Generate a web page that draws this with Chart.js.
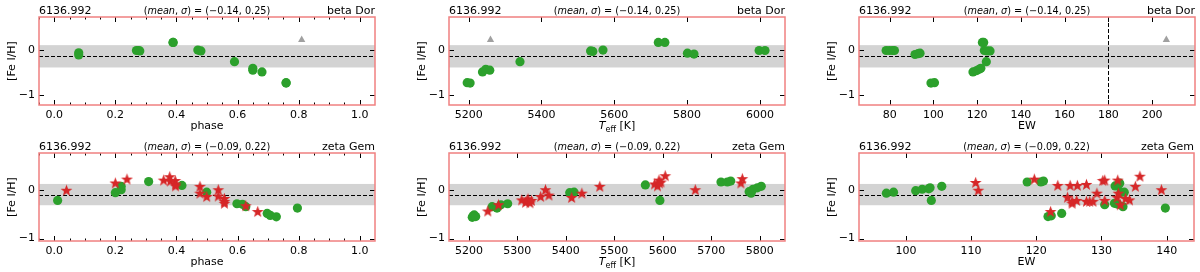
<!DOCTYPE html>
<html>
<head>
<meta charset="utf-8">
<script src="https://cdn.jsdelivr.net/npm/chart.js@4.4.0/dist/chart.umd.min.js"></script>
<style>
  html, body { margin: 0; padding: 0; background: #fff; overflow: hidden; }
  #wrap { position: relative; width: 1200px; height: 272px; }
  canvas { position: absolute; }
</style>
</head>
<body>
<div id="wrap"></div>
<script>
// ---- data ----
const lineLabel = '6136.992';
const starNames = ['beta Dor', 'zeta Gem'];
const starMean = [-0.14, -0.09];
const starSigma = [0.25, 0.22];
const yLimits = [[-1.23, 0.74], [-1.05, 0.77]];
const yTicks = [-1, 0];

const phaseTicks = [0.0, 0.2, 0.4, 0.6, 0.8, 1.0];
const teffTicksTop = [5200, 5400, 5600, 5800, 6000];
const teffTicksBottom = [5200, 5300, 5400, 5500, 5600, 5700, 5800];
const ewTicksTop = [80, 100, 120, 140, 160, 180, 200];
const ewTicksBottom = [100, 110, 120, 130, 140];

// beta Dor
const betaPhase = [0.080, 0.080, 0.269, 0.275, 0.280, 0.389, 0.389, 0.470, 0.480, 0.590, 0.650, 0.650, 0.680, 0.759, 0.759];
const betaPhaseFeh = [-0.06, -0.11, -0.01, -0.01, -0.02, 0.17, 0.17, 0.0, -0.02, -0.26, -0.41, -0.45, -0.49, -0.73, -0.74];
const betaTeff = [5196, 5204, 5238, 5247, 5258, 5341, 5535, 5541, 5569, 5721, 5739, 5801, 5819, 5998, 6014];
const betaTeffFeh = [-0.73, -0.74, -0.49, -0.43, -0.45, -0.26, -0.02, -0.03, 0.0, 0.17, 0.17, -0.07, -0.09, -0.01, -0.01];
const betaEW = [78.4, 79.9, 81.4, 82.2, 91.6, 93.0, 93.9, 98.9, 100.5, 118.1, 119.8, 120.9, 121.7, 122.4, 123.0, 123.3, 124.5, 125.9, 124.2];
const betaEWFeh = [-0.01, -0.01, -0.01, -0.01, -0.10, -0.08, -0.07, -0.74, -0.73, -0.49, -0.46, -0.43, -0.41, 0.17, 0.17, -0.01, -0.02, -0.02, -0.26];
const betaUpperPhase = [0.81];
const betaUpperTeff = [5260];
const betaUpperEW = [206.5];
const betaUpperFeh = [0.23];

// zeta Gem, circles
const zetaPhase = [0.011, 0.200, 0.219, 0.219, 0.309, 0.418, 0.499, 0.598, 0.616, 0.627, 0.697, 0.707, 0.727, 0.796];
const zetaPhaseFeh = [-0.21, -0.05, 0.08, 0.01, 0.18, 0.10, -0.04, -0.28, -0.29, -0.34, -0.48, -0.52, -0.55, -0.37];
const zetaTeff = [5207, 5209, 5211, 5214, 5248, 5258, 5266, 5280, 5408, 5417, 5564, 5594, 5720, 5733, 5740, 5778, 5782, 5786, 5795, 5803];
const zetaTeffFeh = [-0.56, -0.53, -0.51, -0.545, -0.34, -0.37, -0.30, -0.28, -0.05, -0.04, 0.11, -0.21, 0.17, 0.17, 0.19, -0.03, -0.06, 0.02, 0.05, 0.08];
const zetaEW = [97.0, 98.1, 101.5, 102.5, 103.5, 103.7, 103.9, 105.5, 118.6, 120.7, 121.1, 121.8, 122.3, 123.9, 130.5, 132.0, 132.1, 132.5, 132.6, 132.8, 133.0, 133.3, 133.5, 139.8];
const zetaEWFeh = [-0.06, -0.04, -0.01, 0.02, 0.03, 0.05, -0.21, 0.08, 0.17, 0.17, 0.19, -0.545, -0.53, -0.48, -0.30, -0.27, 0.09, -0.29, 0.12, 0.145, -0.04, -0.34, -0.04, -0.37];

// zeta Gem, stars
const zetaStarPhase = [0.040, 0.200, 0.238, 0.358, 0.378, 0.380, 0.396, 0.397, 0.397, 0.477, 0.477, 0.499, 0.537, 0.537, 0.557, 0.557, 0.557, 0.627, 0.666];
const zetaStarPhaseFeh = [0.00, 0.15, 0.23, 0.21, 0.28, 0.19, 0.20, 0.13, 0.09, 0.08, -0.06, -0.13, 0.01, -0.12, -0.17, -0.23, -0.27, -0.32, -0.44];
const zetaStarTeff = [5239, 5261, 5309, 5317, 5320, 5322, 5326, 5329, 5348, 5358, 5365, 5412, 5433, 5470, 5583, 5589, 5592, 5593, 5596, 5605, 5667, 5761, 5764];
const zetaStarTeffFeh = [-0.43, -0.30, -0.20, -0.25, -0.21, -0.18, -0.26, -0.21, -0.13, 0.01, -0.10, -0.15, -0.06, 0.08, 0.13, 0.09, 0.21, 0.15, 0.17, 0.30, 0.01, 0.15, 0.24];
const zetaStarEW = [110.7, 111.1, 119.7, 122.2, 123.3, 124.8, 125.2, 125.5, 125.5, 126.2, 126.3, 127.7, 127.7, 128.2, 128.7, 129.3, 130.2, 130.5, 130.5, 132.4, 132.5, 132.6, 132.9, 133.7, 134.3, 135.2, 135.9, 139.2];
const zetaStarEWFeh = [0.16, 0.00, 0.23, -0.44, 0.10, -0.145, 0.10, -0.27, -0.23, -0.21, 0.10, 0.12, -0.23, -0.23, -0.23, -0.06, 0.20, 0.21, -0.21, -0.145, 0.21, -0.06, -0.30, -0.17, -0.20, 0.08, 0.29, 0.01];

const ewLimit = 180;

// ---- look ----
const FONT = 'DejaVu Sans';
const green = '#2ca02c';
const red = '#d62728';
const grey = '#a0a0a0';
const bandColor = '#d3d3d3';
const spineColor = '#f08080';

// panel geometry (page pixels)
const panelW = 400, panelH = 136;
const areaLeft = [39, 49, 59];   // plot-area left inside each column canvas
const areaWidth = 336;
const areaTop = 17, areaBottom = 105;

const pts = (xs, ys) => xs.map((x, i) => ({x: x, y: ys[i]}));
const minus = s => s.replace('-', '\u2212');

function makeStar(size, color) {
    const c = document.createElement('canvas');
    c.width = c.height = size;
    const g = c.getContext('2d');
    const R = size / 2 - 0.3, r = R * 0.42, cx = size / 2, cy = size / 2 + R * 0.08;
    g.beginPath();
    for (let i = 0; i < 10; i++) {
        const ang = -Math.PI / 2 + i * Math.PI / 5;
        const rad = i % 2 ? r : R;
        g.lineTo(cx + rad * Math.cos(ang), cy + rad * Math.sin(ang));
    }
    g.closePath();
    g.fillStyle = color;
    g.fill();
    return c;
}
const starImg = makeStar(13, red);

const panels = [
    {row: 0, col: 0, xMin: -0.05, xMax: 1.05, ticks: phaseTicks, minor: 0.05, fmt: v => v.toFixed(1), title: 'phase',
     g: pts(betaPhase, betaPhaseFeh), s: [], t: pts(betaUpperPhase, betaUpperFeh)},
    {row: 0, col: 1, xMin: 5146, xMax: 6069, ticks: teffTicksTop, minor: null, fmt: v => String(v), title: 'teff',
     g: pts(betaTeff, betaTeffFeh), s: [], t: pts(betaUpperTeff, betaUpperFeh)},
    {row: 0, col: 2, xMin: 66, xMax: 219.6, ticks: ewTicksTop, minor: null, fmt: v => String(v), title: 'EW', vline: ewLimit,
     g: pts(betaEW, betaEWFeh), s: [], t: pts(betaUpperEW, betaUpperFeh)},
    {row: 1, col: 0, xMin: -0.05, xMax: 1.05, ticks: phaseTicks, minor: 0.05, fmt: v => v.toFixed(1), title: 'phase',
     g: pts(zetaPhase, zetaPhaseFeh), s: pts(zetaStarPhase, zetaStarPhaseFeh), t: []},
    {row: 1, col: 1, xMin: 5159, xMax: 5852, ticks: teffTicksBottom, minor: null, fmt: v => String(v), title: 'teff',
     g: pts(zetaTeff, zetaTeffFeh), s: pts(zetaStarTeff, zetaStarTeffFeh), t: []},
    {row: 1, col: 2, xMin: 92.8, xMax: 144.2, ticks: ewTicksBottom, minor: null, fmt: v => String(v), title: 'EW',
     g: pts(zetaEW, zetaEWFeh), s: pts(zetaStarEW, zetaStarEWFeh), t: []},
];

function minorValues(min, max, step, majors) {
    const out = [];
    if (!step) return out;
    for (let v = Math.ceil(min / step) * step; v <= max; v += step) {
        const r = Math.round(v / step) * step;
        if (!majors.some(m => Math.abs(m - r) < step * 0.01)) out.push(r);
    }
    return out;
}

function decor(p) {
    const mean = starMean[p.row], sigma = starSigma[p.row];
    return {
        id: 'decor' + p.row + p.col,
        beforeDatasetsDraw(chart) {
            const {ctx, chartArea: a, scales: {x, y}} = chart;
            ctx.save();
            const y1 = y.getPixelForValue(mean + sigma), y2 = y.getPixelForValue(mean - sigma);
            ctx.fillStyle = bandColor;
            ctx.fillRect(a.left, y1, a.right - a.left, y2 - y1);
            ctx.strokeStyle = '#000';
            ctx.lineWidth = 1;
            ctx.setLineDash([4, 2]);
            const ym = Math.round(y.getPixelForValue(mean)) + 0.5;
            ctx.beginPath(); ctx.moveTo(a.left, ym); ctx.lineTo(a.right, ym); ctx.stroke();
            if (p.vline != null) {
                const xv = Math.round(x.getPixelForValue(p.vline)) + 0.5;
                ctx.beginPath(); ctx.moveTo(xv, a.top); ctx.lineTo(xv, a.bottom); ctx.stroke();
            }
            ctx.restore();
        },
        afterDraw(chart) {
            const {ctx, chartArea: a, scales: {x, y}} = chart;
            ctx.save();
            // inward ticks on all four sides
            ctx.strokeStyle = '#000';
            ctx.lineWidth = 1;
            const xt = (vals, len) => vals.forEach(v => {
                const px = Math.round(x.getPixelForValue(v)) + 0.5;
                if (px < a.left || px > a.right) return;
                ctx.beginPath();
                ctx.moveTo(px, a.bottom); ctx.lineTo(px, a.bottom - len);
                ctx.moveTo(px, a.top); ctx.lineTo(px, a.top + len);
                ctx.stroke();
            });
            const yt = (vals, len) => vals.forEach(v => {
                const py = Math.round(y.getPixelForValue(v)) + 0.5;
                if (py < a.top || py > a.bottom) return;
                ctx.beginPath();
                ctx.moveTo(a.left, py); ctx.lineTo(a.left + len, py);
                ctx.moveTo(a.right, py); ctx.lineTo(a.right - len, py);
                ctx.stroke();
            });
            xt(p.ticks, 5);
            xt(minorValues(p.xMin, p.xMax, p.minor, p.ticks), 2.5);
            yt(yTicks, 5);

            // frame
            ctx.strokeStyle = spineColor;
            ctx.lineWidth = 1.5;
            ctx.strokeRect(a.left, a.top, a.right - a.left, a.bottom - a.top);

            // header texts
            ctx.fillStyle = '#000';
            ctx.textBaseline = 'alphabetic';
            ctx.font = `11px "${FONT}"`;
            ctx.textAlign = 'left';
            ctx.fillText(lineLabel, a.left, a.top - 3.5);
            ctx.textAlign = 'right';
            ctx.fillText(starNames[p.row], a.right, a.top - 3.5);

            const parts = [
                ['(', false], ['mean', true], [', ', false], ['\u03c3', true],
                [') = (' + minus(mean.toFixed(2)) + ', ' + sigma.toFixed(2) + ')', false]
            ];
            const fsz = 9.7;
            const fnt = it => `${it ? 'italic ' : ''}${fsz}px "${FONT}"`;
            let total = 0;
            parts.forEach(([t, it]) => { ctx.font = fnt(it); total += ctx.measureText(t).width; });
            let cx = (a.left + a.right) / 2 - total / 2;
            ctx.textAlign = 'left';
            parts.forEach(([t, it]) => { ctx.font = fnt(it); ctx.fillText(t, cx, a.top - 3.5); cx += ctx.measureText(t).width; });

            // x title
            const xc = (a.left + a.right) / 2, xb = a.bottom + 24;
            if (p.title === 'teff') {
                const segs = [['T', 'italic 11px', 0], ['eff', '8px', 2.5], [' [K]', '11px', 0]];
                let w = 0;
                segs.forEach(([t, f]) => { ctx.font = `${f} "${FONT}"`; w += ctx.measureText(t).width; });
                let sx = xc - w / 2;
                segs.forEach(([t, f, dy]) => { ctx.font = `${f} "${FONT}"`; ctx.fillText(t, sx, xb + dy); sx += ctx.measureText(t).width; });
            } else {
                ctx.font = `11px "${FONT}"`;
                ctx.textAlign = 'center';
                ctx.fillText(p.title, xc, xb);
            }

            // y title
            ctx.save();
            ctx.translate(a.left - 26.5, (a.top + a.bottom) / 2);
            ctx.rotate(-Math.PI / 2);
            ctx.font = `11px "${FONT}"`;
            ctx.textAlign = 'center';
            ctx.textBaseline = 'middle';
            ctx.fillText('[Fe I/H]', 0, 0);
            ctx.restore();
            ctx.restore();
        }
    };
}

const wrap = document.getElementById('wrap');
panels.forEach(p => {
    const cv = document.createElement('canvas');
    cv.width = panelW;
    cv.height = panelH;
    cv.style.left = (p.col * panelW) + 'px';
    cv.style.top = (p.row * panelH) + 'px';
    wrap.appendChild(cv);

    const left = areaLeft[p.col];
    const right = panelW - (left + areaWidth);
    const tickFont = {family: FONT, size: 11};

    new Chart(cv.getContext('2d'), {
        type: 'scatter',
        data: {
            datasets: [
                {data: p.s, pointStyle: starImg, pointRadius: 6, borderWidth: 0, order: 0},
                {data: p.g, pointStyle: 'circle', pointRadius: 4.6, backgroundColor: green, borderColor: green, borderWidth: 0, order: 1},
                {data: p.t, pointStyle: 'triangle', pointRadius: 4.2, backgroundColor: grey, borderColor: grey, borderWidth: 0, order: 2},
            ]
        },
        options: {
            responsive: false,
            animation: false,
            events: [],
            layout: {padding: {left: 0, right: right, top: areaTop, bottom: 0}},
            plugins: {legend: {display: false}, tooltip: {enabled: false}, title: {display: false}},
            scales: {
                x: {
                    type: 'linear', min: p.xMin, max: p.xMax,
                    grid: {display: false, drawTicks: false},
                    border: {display: false},
                    ticks: {font: tickFont, color: '#000', padding: 4, maxRotation: 0, autoSkip: false,
                            callback: v => p.fmt(v)},
                    afterBuildTicks: s => { s.ticks = p.ticks.map(v => ({value: v})); },
                    afterFit: s => { s.height = panelH - areaBottom; s.paddingLeft = 0; s.paddingRight = 0; }
                },
                y: {
                    type: 'linear', min: yLimits[p.row][0], max: yLimits[p.row][1],
                    grid: {display: false, drawTicks: false},
                    border: {display: false},
                    ticks: {font: tickFont, color: '#000', padding: 4, autoSkip: false,
                            callback: v => minus(String(v))},
                    afterBuildTicks: s => { s.ticks = yTicks.map(v => ({value: v})); },
                    afterFit: s => { s.width = left; s.paddingTop = 0; s.paddingBottom = 0; }
                }
            }
        },
        plugins: [decor(p)]
    });
});
</script>
</body>
</html>
